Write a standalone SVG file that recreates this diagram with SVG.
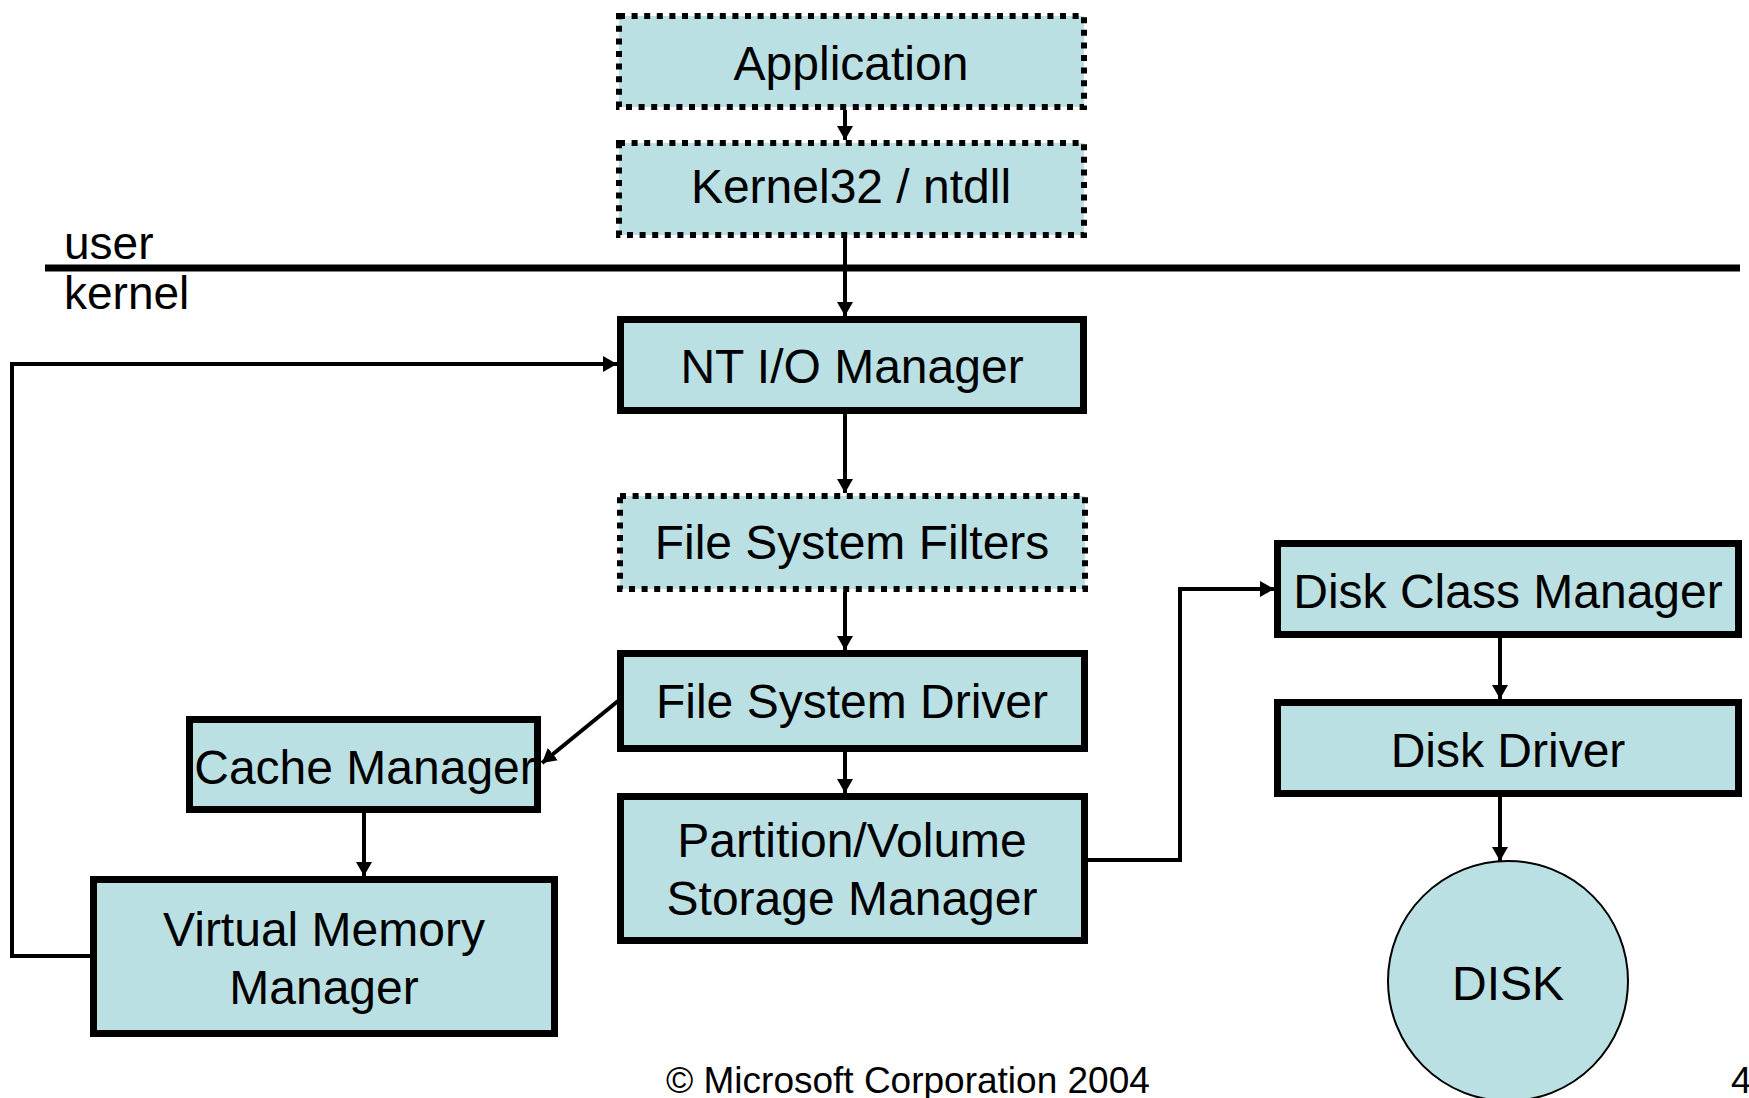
<svg xmlns="http://www.w3.org/2000/svg" width="1749" height="1098" viewBox="0 0 1749 1098">
  <style>
    .box { fill: #BAE0E3; stroke: #000; stroke-width: 7; }
    .dot { fill: #BAE0E3; stroke: #000; stroke-width: 6; stroke-dasharray: 6 6.6; }
    .lbl { font-family: "Liberation Sans", Arial, sans-serif; font-size: 48px; fill: #000; text-anchor: middle; }
    .side { font-family: "Liberation Sans", Arial, sans-serif; font-size: 46px; fill: #000; }
    .foot { font-family: "Liberation Sans", Arial, sans-serif; font-size: 37px; fill: #000; }
    .wire { fill: none; stroke: #000; stroke-width: 4; }
  </style>
  <defs>
    <marker id="arrow" viewBox="0 0 14 16" refX="14" refY="8" markerWidth="14" markerHeight="16" markerUnits="userSpaceOnUse" orient="auto">
      <path d="M0,0 L14,8 L0,16 z" fill="#000"/>
    </marker>
  </defs>
  <rect width="1749" height="1098" fill="#fff"/>

  <!-- user / kernel boundary -->
  <g id="boundary">
    <line x1="45" y1="268" x2="1740" y2="268" stroke="#000" stroke-width="7"/>
    <text class="side" x="64" y="259">user</text>
    <text class="side" x="64" y="309">kernel</text>
  </g>

  <!-- connectors -->
  <g id="connectors">
    <line class="wire" x1="845" y1="110" x2="845" y2="140" marker-end="url(#arrow)"/>
    <line class="wire" x1="845" y1="238" x2="845" y2="316" marker-end="url(#arrow)"/>
    <line class="wire" x1="845" y1="414" x2="845" y2="493" marker-end="url(#arrow)"/>
    <line class="wire" x1="845" y1="592" x2="845" y2="650" marker-end="url(#arrow)"/>
    <line class="wire" x1="845" y1="752" x2="845" y2="793" marker-end="url(#arrow)"/>
    <line class="wire" x1="618" y1="701" x2="542" y2="763" marker-end="url(#arrow)"/>
    <line class="wire" x1="364" y1="813" x2="364" y2="876" marker-end="url(#arrow)"/>
    <polyline class="wire" points="90,956 12,956 12,364 617,364" marker-end="url(#arrow)"/>
    <polyline class="wire" points="1088,860 1180,860 1180,589 1274,589" marker-end="url(#arrow)"/>
    <line class="wire" x1="1500" y1="638" x2="1500" y2="699" marker-end="url(#arrow)"/>
    <line class="wire" x1="1500" y1="797" x2="1500" y2="861" marker-end="url(#arrow)"/>
  </g>

  <!-- nodes -->
  <g id="application">
    <rect class="dot" x="619" y="16" width="465" height="91"/>
    <text class="lbl" x="851" y="80">Application</text>
  </g>
  <g id="kernel32">
    <rect class="dot" x="619" y="143" width="465" height="92"/>
    <text class="lbl" x="851" y="203">Kernel32 / ntdll</text>
  </g>
  <g id="io-manager">
    <rect class="box" x="620.5" y="319.5" width="463" height="91"/>
    <text class="lbl" x="852" y="383">NT I/O Manager</text>
  </g>
  <g id="fs-filters">
    <rect class="dot" x="620" y="496" width="465" height="93"/>
    <text class="lbl" x="852" y="559">File System Filters</text>
  </g>
  <g id="fs-driver">
    <rect class="box" x="620.5" y="653.5" width="464" height="95"/>
    <text class="lbl" x="852" y="718">File System Driver</text>
  </g>
  <g id="partition">
    <rect class="box" x="620.5" y="796.5" width="464" height="144"/>
    <text class="lbl" x="852" y="857">Partition/Volume</text>
    <text class="lbl" x="852" y="915">Storage Manager</text>
  </g>
  <g id="cache-manager">
    <rect class="box" x="189.5" y="719.5" width="348" height="90"/>
    <text class="lbl" x="365" y="784">Cache Manager</text>
  </g>
  <g id="vm-manager">
    <rect class="box" x="93.5" y="879.5" width="461" height="154"/>
    <text class="lbl" x="324" y="946">Virtual Memory</text>
    <text class="lbl" x="324" y="1004">Manager</text>
  </g>
  <g id="disk-class">
    <rect class="box" x="1277.5" y="543.5" width="461" height="91"/>
    <text class="lbl" x="1508" y="608">Disk Class Manager</text>
  </g>
  <g id="disk-driver">
    <rect class="box" x="1277.5" y="702.5" width="461" height="91"/>
    <text class="lbl" x="1508" y="767">Disk Driver</text>
  </g>
  <g id="disk">
    <circle cx="1508" cy="981" r="120" fill="#BAE0E3" stroke="#000" stroke-width="2"/>
    <text class="lbl" x="1508" y="1000">DISK</text>
  </g>

  <!-- footer -->
  <text class="foot" x="666" y="1093">© Microsoft Corporation 2004</text>
  <text class="foot" x="1731" y="1093">4</text>
</svg>
